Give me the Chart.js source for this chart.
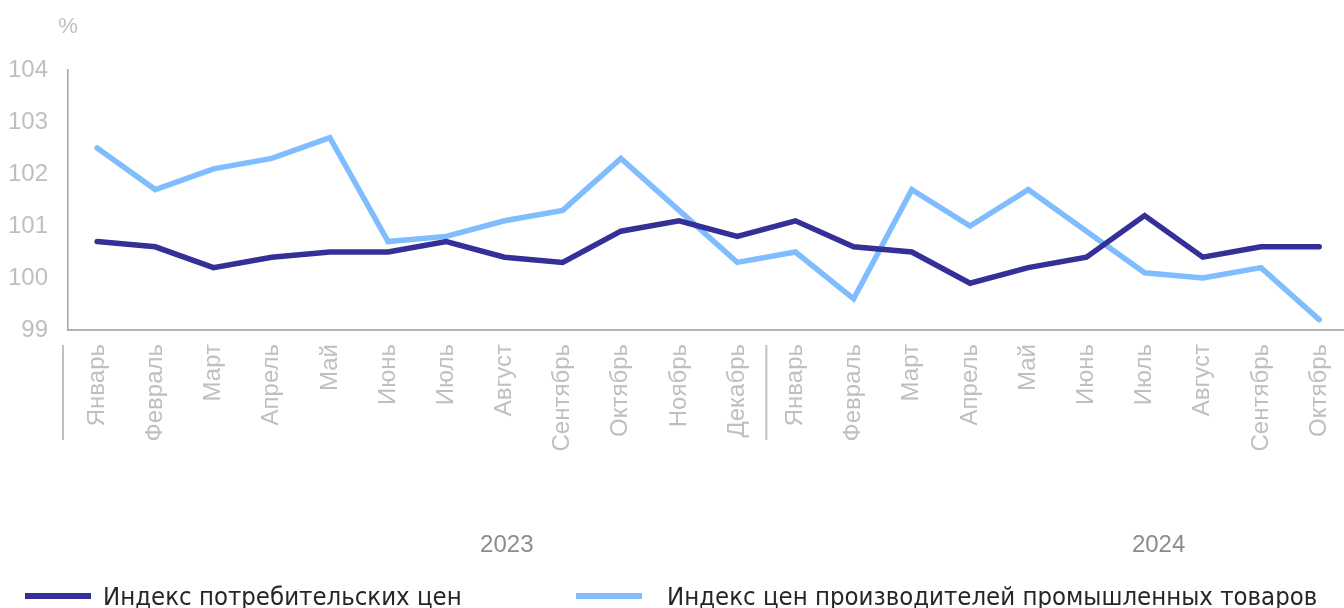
<!DOCTYPE html>
<html lang="ru">
<head>
<meta charset="utf-8">
<script src="https://cdn.jsdelivr.net/npm/chart.js@4"></script>
<style>
  html, body { margin: 0; padding: 0; background: #fff; overflow: hidden; }
  .wrap { position: relative; width: 1344px; height: 608px; overflow: hidden; }
  .box { position: absolute; left: 0; top: 0; width: 1362px; height: 608px; }
  .leg { position: absolute; font-family: "Liberation Sans Narrow", "DejaVu Sans Condensed", sans-serif; font-size: 25.5px; color: #262626; white-space: nowrap; line-height: 1; }
  .sw { position: absolute; height: 6px; width: 66px; }
</style>
</head>
<body>
<div class="wrap">
  <div class="box"><canvas id="chart-01"></canvas></div>
  <div class="sw" style="left:25px; top:593px; background:#353097;"></div>
  <div class="leg" style="left:103px; top:584px;">Индекс потребительских цен</div>
  <div class="sw" style="left:576px; top:593px; background:#80bdff;"></div>
  <div class="leg" style="left:667px; top:584px;">Индекс цен производителей промышленных товаров</div>
</div>
<script>
const months = ["Январь", "Февраль", "Март", "Апрель", "Май", "Июнь", "Июль", "Август", "Сентябрь", "Октябрь", "Ноябрь", "Декабрь",
  "Январь", "Февраль", "Март", "Апрель", "Май", "Июнь", "Июль", "Август", "Сентябрь", "Октябрь"];
const years = ["2023", "2024"];
const cpi = [100.7, 100.6, 100.2, 100.4, 100.5, 100.5, 100.7, 100.4, 100.3, 100.9, 101.1, 100.8,
  101.1, 100.6, 100.5, 99.9, 100.2, 100.4, 101.2, 100.4, 100.6, 100.6];
const ppi = [102.5, 101.7, 102.1, 102.3, 102.7, 100.7, 100.8, 101.1, 101.3, 102.3, 101.3, 100.3,
  100.5, 99.6, 101.7, 101.0, 101.7, 100.9, 100.1, 100.0, 100.2, 99.2];

//Year labels, group separators and unit label
const extras = {
  id: "extras",
  afterDraw(chart) {
    const ctx = chart.ctx;
    const x = chart.scales.x;
    ctx.save();
    ctx.strokeStyle = "#bfbfbf";
    ctx.lineWidth = 2;
    const sep = [chart.chartArea.left - 5, (x.getPixelForValue(11) + x.getPixelForValue(12)) / 2];
    for (let p of sep) {
      ctx.beginPath();
      ctx.moveTo(p, 345);
      ctx.lineTo(p, 440);
      ctx.stroke();
    }
    ctx.fillStyle = "#8c8c8c";
    ctx.font = "24px 'Liberation Sans', Arial, sans-serif";
    ctx.textAlign = "center";
    ctx.textBaseline = "middle";
    ctx.fillText(years[0], x.getPixelForValue(7.04), 545);
    ctx.fillText(years[1], x.getPixelForValue(18.24), 545);
    ctx.fillStyle = "#bfbfbf";
    ctx.font = "22px 'Liberation Sans', Arial, sans-serif";
    ctx.fillText("%", 68, 27);
    ctx.restore();
  },
};

let graphique01 = new Chart(document.getElementById("chart-01"), {
  type: "line",
  data: {
    labels: months,
    datasets: [
      {
        label: "Индекс потребительских цен",
        data: cpi,
        borderColor: "#353097",
        borderWidth: 5.5,
        pointRadius: 0,
        tension: 0,
        borderCapStyle: "round",
      },
      {
        label: "Индекс цен производителей промышленных товаров",
        data: ppi,
        borderColor: "#80bdff",
        borderWidth: 5.5,
        pointRadius: 0,
        tension: 0,
        borderCapStyle: "round",
      },
    ],
  },
  options: {
    responsive: true,
    maintainAspectRatio: false,
    animation: false,
    layout: { padding: { top: 70, left: 0, right: 0, bottom: 0 } },
    plugins: {
      legend: { display: false },
      tooltip: { enabled: false },
    },
    scales: {
      x: {
        offset: true,
        grid: { display: false, drawTicks: false },
        border: { color: "#b3b3b3", width: 2 },
        ticks: {
          color: "#bfbfbf",
          font: { family: "'Liberation Sans', Arial, sans-serif", size: 24 },
          minRotation: 90,
          maxRotation: 90,
          autoSkip: false,
          padding: 14,
        },
        afterFit(scale) { scale.height = 278; },
      },
      y: {
        min: 99,
        max: 104,
        grid: { display: false, drawTicks: false },
        border: { color: "#a6a6a6", width: 1.5 },
        ticks: {
          stepSize: 1,
          color: "#bfbfbf",
          font: { family: "'Liberation Sans', Arial, sans-serif", size: 24 },
          padding: 20,
        },
        afterFit(scale) { scale.width = 68; },
      },
    },
  },
  plugins: [extras],
});
</script>
</body>
</html>
